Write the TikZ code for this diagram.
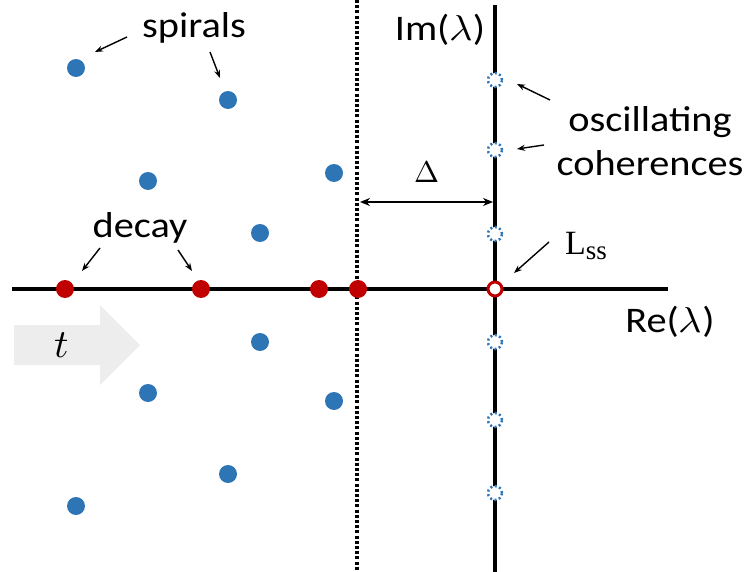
\documentclass[tikz,border=0pt]{standalone}
\usepackage{fontspec}
\usepackage{unicode-math}
\setmainfont{Carlito}
\setmathfont{Latin Modern Math}
\newfontfamily\serifL{Liberation Serif}
\usetikzlibrary{arrows.meta,positioning}
\definecolor{dotblue}{HTML}{2E75B6}
\definecolor{dotred}{HTML}{C00000}
\tikzset{
  spiraldot/.style={circle,fill=dotblue,inner sep=0pt,minimum size=18pt},
  decaydot/.style={circle,fill=dotred,inner sep=0pt,minimum size=18pt},
  cohdot/.style={circle,draw=dotblue,fill=white,line width=2.5pt,dash pattern=on 2pt off 2.6pt,inner sep=0pt,minimum size=14pt},
  ssdot/.style={circle,draw=dotred,fill=white,line width=3pt,inner sep=0pt,minimum size=14pt},
  lbl/.style={font=\fontsize{36}{36}\selectfont,inner sep=0pt,xscale=1.12},
  pointer/.style={line width=1.4pt,-{Stealth[length=8pt,width=6pt]}},
  axis/.style={line width=4pt}
}
\begin{document}
\begin{tikzpicture}[x=1pt,y=-1pt]
  \useasboundingbox (0,0) rectangle (749,572);
  % time arrow
  \fill[black!7] (14,325) -- (100,325) -- (100,305) -- (140,345) -- (100,385)
    -- (100,365) -- (14,365) -- cycle;
  \node[font=\fontsize{40}{40}\selectfont,inner sep=0pt] (t) at (62,345) {$t$};
  % axes
  \draw[line width=3.5pt,dash pattern=on 3pt off 2.2pt] (357,0) -- (357,572);
  \draw[axis] (12,289) -- (668,289);
  \draw[axis] (495,5) -- (495,572);
  \node[lbl] (im) at (440,30) {Im($\lambda$)};
  \node[lbl] (re) at (670,322) {Re($\lambda$)};
  % spirals
  \foreach \n/\x/\y in {s1/76/68, s2/228/100, s3/148/181, s4/334/173, s5/260/233,
      s6/260/342, s7/148/393, s8/334/401, s9/228/474, s10/76/506}
    \node[spiraldot] (\n) at (\x,\y) {};
  % decay
  \foreach \n/\x in {d1/65, d2/201, d3/319, d4/358}
    \node[decaydot] (\n) at (\x,289) {};
  % coherences
  \foreach \n/\y in {c1/80, c2/150, c3/234, c4/342, c5/420, c6/493}
    \node[cohdot] (\n) at (495,\y) {};
  \node[ssdot] (ss) at (495,289) {};
  % labels
  \node[lbl] (spirals) at (194,28) {spirals};
  \node[lbl] (decay) at (140,228) {decay};
  \node[lbl] (osc) at (650,122) {oscillating};
  \node[lbl] (coh) at (650,163) {coherences};
  \node[font=\serifL\fontsize{34}{34}\selectfont,inner sep=0pt] (lss) at (586,246)
    {L\raisebox{-5pt}{\fontsize{27}{27}\selectfont ss}};
  \node[font=\fontsize{30}{30}\selectfont,inner sep=0pt] (gap) at (427,172) {$\Delta$};
  % pointers
  \coordinate (p1) at (95,52);
  \coordinate (p2) at (220,78);
  \coordinate (p3) at (82,271);
  \coordinate (p4) at (192,271);
  \coordinate (p5) at (517,84);
  \coordinate (p6) at (517,149);
  \coordinate (p7) at (514,273);
  \coordinate (q1) at (127,37);
  \coordinate (q2) at (210,52);
  \coordinate (q3) at (100,248);
  \coordinate (q4) at (178,250);
  \coordinate (q5) at (550,100);
  \coordinate (q6) at (544,145);
  \coordinate (q7) at (549,242);
  \foreach \i in {1,...,7}
    \draw[pointer] (q\i) -- (p\i);
  \coordinate (ga) at (360,202);
  \coordinate (gb) at (493,202);
  \draw[line width=1.4pt,{Stealth[length=10pt,width=8pt]}-{Stealth[length=10pt,width=8pt]}] (ga) -- (gb);
\end{tikzpicture}
\end{document}
